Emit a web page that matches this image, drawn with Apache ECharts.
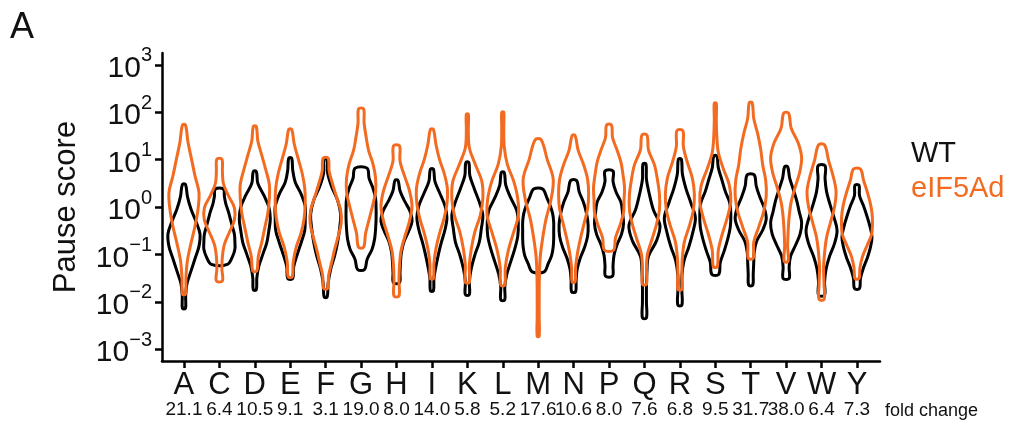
<!DOCTYPE html>
<html>
<head>
<meta charset="utf-8">
<script src="https://cdn.jsdelivr.net/npm/echarts@6/dist/echarts.min.js"></script>
<style>
  html, body { margin: 0; padding: 0; background: #fff; }
  #chart { width: 1011px; height: 434px; }
</style>
</head>
<body>
<div id="chart"></div>
<script>
// Amino acids on the x axis and the fold change printed under each one
const aminoAcids = ['A','C','D','E','F','G','H','I','K','L','M','N','P','Q','R','S','T','V','W','Y'];
const foldChange = ['21.1','6.4','10.5','9.1','3.1','19.0','8.0','14.0','5.8','5.2','17.6','10.6','8.0','7.6','6.8','9.5','31.7','38.0','6.4','7.3'];

// Exponents of the y-axis ticks (log10 of pause score)
const yExponents = [-3, -2, -1, 0, 1, 2, 3];

// Violin profiles: [log10 min, log10 max, density at 11 evenly spaced levels from min to max]
const wtViolins = [
  [-2.14, 0.48, [1.5,1.7,3,7,11,15,16,12,7,3.5,1.5]],
  [-1.21, 0.38, [8,13,15.5,15.5,15,13,11,9,6.5,5,4]],
  [-1.75, 0.75, [1.5,2,4,8,12,14,15.5,14,9,3,1.5]],
  [-1.51, 1.03, [2.5,3.5,7,11,14.5,15,15,11,5,2.5,1.5]],
  [-1.90, 1.01, [1.5,2.5,5,9,12,14,15,12,6,2,1.5]],
  [-1.32, 0.82, [3.5,6,11,13.5,14.5,15,15,14.5,12,8,6]],
  [-1.60, 0.56, [3,3.5,4,5,7.5,12,15.5,13.5,8,3.5,1.5]],
  [-1.77, 0.80, [1.5,2,4,6.5,9.5,13,15,13,8,3,1.5]],
  [-1.85, 0.94, [2,2,4,7.5,12,14,15.5,12,7,2.5,1.5]],
  [-1.96, 0.73, [2,2,4,8,12,15,15.5,14,8,3,1.5]],
  [-1.37, 0.38, [6,10,13.5,15,15.5,15.5,15.5,14.5,12,8.5,4.5]],
  [-1.79, 0.56, [2,2.5,3.5,6.5,11,14,14.5,13,10,5.5,3]],
  [-1.46, 0.76, [3.5,4,5,8,12.5,14.5,13.5,12,7,4,4]],
  [-2.34, 0.91, [2,2,2,2.5,4,12,15.5,9,5,2,1.5]],
  [-2.07, 1.01, [2,2,2,4,9,13,15.5,11,6,2.5,1.5]],
  [-1.42, 1.08, [3.5,5,9,12.5,15,15.5,14.5,10,6.5,3,1.5]],
  [-1.65, 0.68, [2,2.5,3,3.5,6,12,15.5,13.5,9,5.5,3.5]],
  [-1.51, 0.85, [3,3,4.5,9.5,14,15.5,13,10.5,7,3.5,1.5]],
  [-1.86, 0.87, [3,3,4.5,8,13,15.5,12.5,8.5,5,3.5,3.5]],
  [-1.72, 0.46, [2.5,3.5,6.5,10.5,13.5,15,13,10,6.5,2.5,2]]
];

const eif5adViolins = [
  [-1.84, 1.73, [1.5,2,3.5,7,11,14,15,11,7.5,4,1.5]],
  [-1.56, 1.01, [3,2.5,3,5,10,15,15,9,4,3,2.5]],
  [-1.35, 1.70, [2,3.5,7,10,13,14.5,14.5,11,7,3,1.5]],
  [-1.47, 1.64, [2,3,6,11,14,15,14.5,12,8,4,1.5]],
  [-1.72, 1.03, [2,3,6,9,12.5,15.5,15,11,7,3.5,2.5]],
  [-0.85, 2.07, [2.5,4.5,8,11.5,14.5,14.5,12,7.5,5,3,2.5]],
  [-1.88, 1.29, [2.5,2.5,3,4.5,8.5,13,15.5,13,8,3.5,3]],
  [-1.51, 1.64, [1.5,2,4,7.5,12,15,15.5,12.5,7.5,4,1.5]],
  [-1.59, 1.96, [2,2,4,7.5,13,15.5,14.5,8,2,1,1]],
  [-1.65, 2.00, [2,2.5,5.5,10.5,15.5,15,11,4.5,1.5,1,1]],
  [-2.73, 1.42, [1,1,1,1.2,2,4.5,8,13,15,9,3]],
  [-1.58, 1.51, [1.5,2,4,7,10.5,14,15,14,10,4.5,1.5]],
  [-0.91, 1.73, [4.5,6.5,11,14.5,15,15.5,14,12,8,3.5,2.5]],
  [-1.63, 1.52, [2,2,3,7.5,12,15,15,13,10,4,2.5]],
  [-1.74, 1.61, [2,2,2.5,4.5,9.5,13.5,14.5,12.5,7.5,3.5,3]],
  [-1.26, 2.19, [2,3,7,12,15.5,14,8,3,1.5,1,1]],
  [-1.08, 2.20, [2.5,3,8,13,15.5,15,12,10,7,3,1.5]],
  [-1.15, 1.98, [2,1.5,2,3,5,9,13.5,15.5,12,5,2.5]],
  [-1.95, 1.31, [2.5,2.5,2,3,5,9,13,14.5,11.5,7,3]],
  [-1.51, 0.80, [2,3,5.5,10,14.5,15.5,15,13,10,6.5,3.5]]
];

const FONT = '"Liberation Sans", Arial, Helvetica, sans-serif';
const WT_COLOR = '#000000';
const MUT_COLOR = '#f26b21';
// density units -> half-width in category units
const DENSITY_SCALE = 1 / 35.4;

function toSeriesData(violins) {
  return violins.map((v, i) => [i, v[0], v[1]].concat(v[2]));
}

function makeRenderer(color) {
  return function (params, api) {
    const idx = api.value(0);
    const lo = api.value(1);
    const hi = api.value(2);
    const n = 11;
    const right = [];
    const left = [];
    for (let k = 0; k < n; k++) {
      const level = lo + (hi - lo) * k / (n - 1);
      const w = api.value(3 + k) * DENSITY_SCALE;
      right.push(api.coord([idx + w, level]));
      left.unshift(api.coord([idx - w, level]));
    }
    return {
      type: 'polygon',
      shape: { points: right.concat(left), smooth: 0.35 },
      style: { fill: null, stroke: color, lineWidth: 3, lineJoin: 'round' },
      silent: true
    };
  };
}

const dims = ['x', 'lo', 'hi'].concat(Array.from({ length: 11 }, (_, k) => 'd' + k));

const chart = echarts.init(document.getElementById('chart'), null, { renderer: 'canvas' });
chart.setOption({
  animation: false,
  backgroundColor: '#ffffff',
  textStyle: { fontFamily: FONT },
  grid: { left: 162, right: 131, top: 53, bottom: 73, containLabel: false },
  graphic: [
    { type: 'text', left: 10, top: 10, style: { text: 'A', font: '36px ' + FONT, fill: '#111' } },
    { type: 'text', left: 885, top: 402, style: { text: 'fold change', font: '18px ' + FONT, fill: '#111' } }
  ],
  legend: {
    orient: 'vertical',
    left: 906,
    top: 134,
    itemWidth: 0,
    itemHeight: 0,
    itemGap: 6,
    icon: 'none',
    selectedMode: false,
    textStyle: { fontSize: 29, fontFamily: FONT, padding: [0, 0, 0, -5] },
    data: [
      { name: 'WT', textStyle: { color: '#111' } },
      { name: 'eIF5Ad', textStyle: { color: MUT_COLOR } }
    ]
  },
  xAxis: {
    type: 'value',
    min: -0.62,
    max: 19.65,
    splitLine: { show: false },
    axisLine: { show: true, onZero: false, lineStyle: { color: '#000', width: 2.5 } },
    axisTick: { show: true, length: 7, lineStyle: { color: '#000', width: 2.5 }, customValues: aminoAcids.map((_, i) => i) },
    axisLabel: {
      customValues: aminoAcids.map((_, i) => i),
      margin: 9,
      formatter: function (v) {
        const i = Math.round(v);
        return '{a|' + aminoAcids[i] + '}\n{b|' + foldChange[i] + '}';
      },
      rich: {
        a: { fontSize: 31, lineHeight: 30, color: '#111', fontFamily: FONT },
        b: { fontSize: 19, lineHeight: 20, color: '#111', fontFamily: FONT }
      }
    }
  },
  yAxis: {
    type: 'value',
    min: -3.25,
    max: 3.25,
    name: 'Pause score',
    nameLocation: 'middle',
    nameGap: 80,
    nameRotate: 90,
    nameTextStyle: { fontSize: 31, color: '#111', fontFamily: FONT },
    splitLine: { show: false },
    axisLine: { show: true, onZero: false, lineStyle: { color: '#000', width: 2.5 } },
    axisTick: { show: true, length: 7, lineStyle: { color: '#000', width: 2.5 }, customValues: yExponents },
    axisLabel: {
      customValues: yExponents,
      margin: 10,
      formatter: function (v) {
        const e = Math.round(v);
        const s = e < 0 ? '\u2212' + (-e) : String(e);
        return '{b|10}{s|' + s + '}';
      },
      rich: {
        b: { fontSize: 30, color: '#111', fontFamily: FONT, lineHeight: 36, verticalAlign: 'bottom' },
        s: { fontSize: 20, color: '#111', fontFamily: FONT, lineHeight: 38, verticalAlign: 'top' }
      }
    }
  },
  series: [
    {
      name: 'WT',
      type: 'custom',
      renderItem: makeRenderer(WT_COLOR),
      dimensions: dims,
      encode: { x: 0, y: [1, 2] },
      data: toSeriesData(wtViolins),
      z: 2
    },
    {
      name: 'eIF5Ad',
      type: 'custom',
      renderItem: makeRenderer(MUT_COLOR),
      dimensions: dims,
      encode: { x: 0, y: [1, 2] },
      data: toSeriesData(eif5adViolins),
      z: 3
    }
  ]
});
</script>
</body>
</html>
